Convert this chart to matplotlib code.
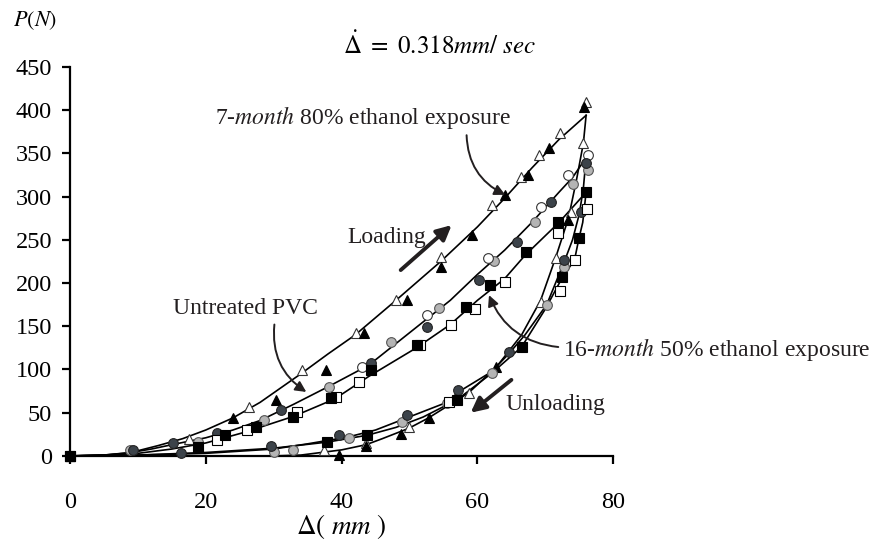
import matplotlib
matplotlib.use("Agg")
import matplotlib.pyplot as plt

plt.rcParams['font.family'] = ['Liberation Serif', 'DejaVu Serif']
plt.rcParams['mathtext.fontset'] = 'stix'

# ---------------- data ----------------
# 7-month 80% ethanol exposure (triangles)
tri_load_x = [0, 5, 8, 10, 13, 16.6, 20, 24, 28, 34, 38, 42, 48, 54.6, 60, 64, 68, 72, 76]
tri_load_y = [0, 1, 3, 6, 12, 20, 30, 44, 62, 95, 118, 140, 180, 225, 265, 298, 333, 366, 394]
tri_unload_x = [76, 75.6, 74.6, 73.4, 71.5, 69.3, 66.5, 62.8, 58.7, 52.8, 49.9, 46, 43.6, 40, 37, 34, 30, 0]
tri_unload_y = [394, 362, 320, 275, 229, 180, 140, 103, 73, 44, 32, 20, 13, 7, 4, 1, 0, 0]
tri_open_x = [0, 17.5, 26.4, 34.2, 42.1, 48, 54.6, 62.1, 66.4, 69.1, 72.2, 76, 75.6, 73.8, 71.5, 69.3, 58.7, 49.9, 43.6, 37.4]
tri_open_y = [0, 20, 57, 99.5, 142, 180, 230, 290, 323, 348, 374, 409, 362, 282, 229, 178, 73, 34, 15, 7]
tri_fill_x = [0, 24, 30.3, 37.7, 43.3, 49.6, 54.6, 59.2, 64.1, 67.5, 70.6, 75.7, 73.4, 62.8, 52.8, 48.7, 43.6, 39.6]
tri_fill_y = [0, 44, 65, 99.5, 142, 180, 219, 256, 302, 325, 356, 404, 273, 103, 44, 25, 11, 1]

# Untreated PVC (circles)
cir_load_x = [0, 5, 9, 12, 15, 20, 24, 28, 33, 38, 44, 48, 52, 56, 60, 64, 68, 72, 74, 76]
cir_load_y = [0, 1, 4, 8, 13, 21, 30, 41, 60, 80, 105, 130, 155, 180, 210, 238, 270, 305, 322, 345]
cir_unload_x = [76, 75.6, 75, 74, 72.8, 70.2, 67, 64.6, 62, 57.2, 55.5, 49.6, 45, 41, 35, 30, 20, 10, 0]
cir_unload_y = [345, 310, 280, 250, 225, 175, 140, 118, 97, 74, 62, 44, 30, 22, 14, 8, 3, 1, 0]
cir_light_x = [0, 8.8, 18.8, 28.6, 38.2, 47.3, 54.3, 62.4, 68.5, 74.1, 76.3, 72.7, 70.2, 62.1, 55.5, 48.9, 41.1, 32.8, 30.1]
cir_light_y = [0, 7, 16, 42, 80, 132, 171, 225, 271, 314, 331, 219, 175, 96, 61, 39, 21, 7, 5]
cir_open_x = [43, 52.6, 61.5, 69.3, 73.4, 76.3]
cir_open_y = [103, 163, 229, 288, 325, 348]
cir_dark_x = [0, 9.3, 15.1, 21.6, 31.1, 44.3, 52.6, 60.2, 65.8, 70.9, 76, 75.2, 72.8, 64.6, 57.2, 49.6, 39.6, 29.6, 16.4]
cir_dark_y = [0, 7, 15, 27, 53, 107, 149, 204, 248, 294, 339, 282, 227, 120, 76, 47, 24, 11, 3]

# 16-month 50% ethanol exposure (squares)
sq_load_x = [0, 5, 10, 15, 20, 26, 33, 39, 44, 51, 56, 60, 64, 67, 72, 76]
sq_load_y = [0, 1, 3, 8, 15, 28, 46, 66, 92, 125, 152, 180, 205, 232, 270, 305]
sq_unload_x = [76, 75.5, 74.9, 74.3, 72.4, 70, 66.5, 62, 57, 52, 48, 43.8, 37.9, 30, 20, 10, 0]
sq_unload_y = [305, 270, 250, 227, 205, 170, 126, 95, 65, 45, 33, 24, 16, 9, 4, 1, 0]
sq_open_x = [0, 21.7, 26.1, 33.5, 39.2, 42.6, 51.6, 56.1, 59.6, 64, 71.8, 76.2, 74.3, 72.2, 55.8]
sq_open_y = [0, 18, 30, 51, 68, 86, 128, 152, 170, 201, 258, 286, 227, 191, 62]
sq_fill_x = [0, 18.8, 22.8, 27.4, 32.8, 38.5, 44.3, 51.1, 58.3, 61.8, 67.1, 71.9, 76, 74.9, 72.4, 66.5, 57, 43.8, 37.9]
sq_fill_y = [0, 10, 24, 34, 45, 67, 99, 128, 172, 198, 236, 271, 305, 252, 207, 126, 65, 24, 16]

x_ticks = [0, 20, 40, 60, 80]
y_ticks = [0, 50, 100, 150, 200, 250, 300, 350, 400, 450]

# ---------------- figure ----------------
fig = plt.figure(figsize=(8.79, 5.48), dpi=100)
ax = fig.add_axes([0.0796, 0.168, 0.6181, 0.7099])

line_kw = dict(color='black', lw=1.2, zorder=2)
for lx, ly, ux, uy in [(tri_load_x, tri_load_y, tri_unload_x, tri_unload_y),
                       (cir_load_x, cir_load_y, cir_unload_x, cir_unload_y),
                       (sq_load_x, sq_load_y, sq_unload_x, sq_unload_y)]:
    ax.plot(lx, ly, **line_kw)
    ax.plot(ux, uy, **line_kw)

mk = dict(linestyle='none', markersize=7, markeredgewidth=0.8, clip_on=False, zorder=3)
ax.plot(tri_open_x, tri_open_y, marker='^', mfc='white', mec='#333333', **mk)
ax.plot(tri_fill_x, tri_fill_y, marker='^', mfc='black', mec='black', **mk)
ax.plot(cir_light_x, cir_light_y, marker='o', mfc='#b4b4b4', mec='#555555', **mk)
ax.plot(cir_open_x, cir_open_y, marker='o', mfc='white', mec='#333333', **mk)
ax.plot(cir_dark_x, cir_dark_y, marker='o', mfc='#3c434a', mec='#222222', **mk)
ax.plot(sq_open_x, sq_open_y, marker='s', mfc='white', mec='black', **mk)
ax.plot(sq_fill_x, sq_fill_y, marker='s', mfc='black', mec='black', **mk)

ax.set_xlim(0, 80)
ax.set_ylim(0, 450)
ax.set_xticks(x_ticks)
ax.set_yticks(y_ticks)
for s in ['top', 'right']:
    ax.spines[s].set_visible(False)
for s in ['left', 'bottom']:
    ax.spines[s].set_linewidth(1.6)
ax.tick_params(axis='both', direction='out', length=6, width=1.6, labelsize=17.5, color='black')
ax.tick_params(axis='x', pad=20)
ax.tick_params(axis='y', pad=7)

ax.set_xlabel(r'$\Delta(\ mm\ )$', fontsize=19.5, labelpad=-1)
fig.text(0.040, 0.963, r'$P(N)$', fontsize=16, ha='center', va='center')
fig.text(0.5006, 0.918, r'$\dot{\Delta}\ =\ 0.318\mathit{mm}/\ \mathit{sec}$', fontsize=18, ha='center', va='center')

tkw = dict(fontsize=17, color='#231f20', va='center', zorder=5)
ax.text(21.3, 392, r'7-$\mathit{month}$ 80% ethanol exposure', ha='left', **tkw)
ax.text(46.7, 253, 'Loading', ha='center', **tkw)
ax.text(25.8, 171, 'Untreated PVC', ha='center', **tkw)
ax.text(72.6, 122.6, r'16-$\mathit{month}$ 50% ethanol exposure', ha='left', clip_on=False, **tkw)
ax.text(64.1, 59, 'Unloading', ha='left', **tkw)

curve = dict(arrowstyle='-|>', color='#231f20', lw=1.4, mutation_scale=16, shrinkA=0, shrinkB=0)
ax.annotate('', xy=(64.1, 302), xytext=(58.4, 371),
            arrowprops=dict(connectionstyle='arc3,rad=0.3', **curve))
ax.annotate('', xy=(34.8, 74), xytext=(30.1, 152),
            arrowprops=dict(connectionstyle='arc3,rad=0.3', **curve))
ax.annotate('', xy=(61.7, 186), xytext=(71.9, 126),
            arrowprops=dict(connectionstyle='arc3,rad=-0.3', **curve))

straight = dict(arrowstyle='-|>', color='#231f20', lw=2.8, mutation_scale=22, shrinkA=0, shrinkB=0)
ax.annotate('', xy=(56.2, 267), xytext=(48.7, 215), arrowprops=straight)
ax.annotate('', xy=(59.0, 50), xytext=(65.0, 88), arrowprops=straight)

fig.savefig('out.png', dpi=100)
